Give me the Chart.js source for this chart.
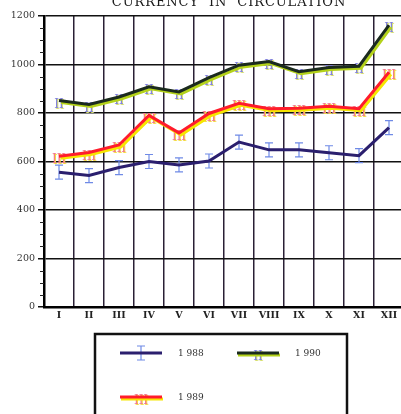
<!DOCTYPE html>
<html lang="en">
<head>
    <meta charset="UTF-8">
    <title>Currency in circulation</title>
    <script src="https://cdn.jsdelivr.net/npm/chart.js"></script>
    <style>
        body { margin: 0; overflow: hidden; background: #fff; }
    </style>
</head>
<body>
<canvas id="currency-chart" width="410" height="414"></canvas>

<script>
    const months = ['I', 'II', 'III', 'IV', 'V', 'VI', 'VII', 'VIII', 'IX', 'X', 'XI', 'XII'];
    const values1988 = [556, 542, 575, 600, 586, 602, 680, 648, 648, 636, 624, 740];
    const values1989 = [622, 637, 668, 790, 718, 798, 840, 818, 820, 828, 818, 968];
    const values1990 = [852, 835, 866, 908, 887, 946, 997, 1012, 970, 988, 993, 1162];
    const yTicks = [0, 200, 400, 600, 800, 1000, 1200];
    const titleText = 'CURRENCY  IN  CIRCULATION';

    // line shadow (the offset colour under the 1989 / 1990 lines)
    const shadowPlugin = {
        id: 'shadow',
        beforeDatasetDraw(chart, args) {
            const ds = chart.data.datasets[args.index];
            const ctx = chart.ctx;
            ctx.save();
            if (ds.shadow) {
                ctx.shadowColor = ds.shadow;
                ctx.shadowOffsetX = 2;
                ctx.shadowOffsetY = 2;
                ctx.shadowBlur = 0;
            }
        },
        afterDatasetDraw(chart) {
            chart.ctx.restore();
        }
    };

    function drawMarker(ctx, ds, x, y) {
        ctx.save();
        if (ds.glyph === 'I') {
            ctx.strokeStyle = ds.glyphColor;
            ctx.lineWidth = 1.2;
            ctx.beginPath();
            ctx.moveTo(x, y - 7); ctx.lineTo(x, y + 7);
            ctx.moveTo(x - 4, y - 7); ctx.lineTo(x + 4, y - 7);
            ctx.moveTo(x - 4, y + 7); ctx.lineTo(x + 4, y + 7);
            ctx.stroke();
        } else {
            ctx.font = '12px "DejaVu Serif"';
            ctx.textAlign = 'center';
            ctx.textBaseline = 'middle';
            ctx.fillStyle = ds.glyphShadow;
            ctx.fillText(ds.glyph, x + 1, y + 5);
            ctx.fillStyle = ds.glyphColor;
            ctx.fillText(ds.glyph, x, y + 4);
        }
        ctx.restore();
    }

    const markerPlugin = {
        id: 'markers',
        beforeDatasetsDraw(chart) {
            chart.data.datasets.forEach((ds, i) => {
                chart.getDatasetMeta(i).data.forEach(pt => drawMarker(chart.ctx, ds, pt.x, pt.y));
            });
        }
    };

    const decorPlugin = {
        id: 'decor',
        afterDraw(chart) {
            const ctx = chart.ctx;
            const y = chart.scales.y;
            const left = chart.chartArea.left;
            ctx.save();
            // minor ticks
            ctx.strokeStyle = '#222';
            ctx.lineWidth = 1;
            for (let v = 50; v < 1200; v += 50) {
                if (v % 200 === 0) continue;
                const py = Math.round(y.getPixelForValue(v)) + 0.5;
                ctx.beginPath();
                ctx.moveTo(left - 4, py);
                ctx.lineTo(left, py);
                ctx.stroke();
            }
            // title
            ctx.font = '13px "DejaVu Serif"';
            ctx.letterSpacing = '0.9px';
            ctx.fillStyle = '#1a1a1a';
            ctx.textAlign = 'center';
            ctx.textBaseline = 'alphabetic';
            ctx.fillText(titleText, 229, 6);
            ctx.letterSpacing = '0px';

            // legend box
            ctx.strokeStyle = '#111';
            ctx.lineWidth = 2.5;
            ctx.strokeRect(95, 334, 252, 110);
            const items = [
                {ds: 0, x: 120, y: 353, label: '1 988'},
                {ds: 2, x: 237, y: 353, label: '1 990'},
                {ds: 1, x: 120, y: 397, label: '1 989'}
            ];
            items.forEach(it => {
                const ds = chart.data.datasets[it.ds];
                drawMarker(ctx, ds, it.x + 21, it.y);
                if (ds.shadow) {
                    ctx.strokeStyle = ds.shadow;
                    ctx.lineWidth = 3;
                    ctx.beginPath();
                    ctx.moveTo(it.x + 1, it.y + 2);
                    ctx.lineTo(it.x + 43, it.y + 2);
                    ctx.stroke();
                }
                ctx.strokeStyle = ds.borderColor;
                ctx.lineWidth = 3;
                ctx.beginPath();
                ctx.moveTo(it.x, it.y);
                ctx.lineTo(it.x + 42, it.y);
                ctx.stroke();
                ctx.font = '9px "DejaVu Serif"';
                ctx.fillStyle = '#333';
                ctx.textAlign = 'left';
                ctx.textBaseline = 'middle';
                ctx.fillText(it.label, it.x + 58, it.y + 1);
            });
            ctx.restore();
        }
    };

    const ctx = document.getElementById('currency-chart').getContext('2d');
    const chart = new Chart(ctx, {
        type: 'line',
        data: {
            labels: months,
            datasets: [
                {
                    label: '1 988',
                    data: values1988,
                    borderColor: '#2b1f6e',
                    borderWidth: 3,
                    pointRadius: 0,
                    tension: 0,
                    glyph: 'I',
                    glyphColor: '#6f8ae6'
                },
                {
                    label: '1 989',
                    data: values1989,
                    borderColor: '#ff1c2c',
                    borderWidth: 3,
                    pointRadius: 0,
                    tension: 0,
                    shadow: '#f6e600',
                    glyph: 'III',
                    glyphColor: '#f27a8c',
                    glyphShadow: '#f4dc40'
                },
                {
                    label: '1 990',
                    data: values1990,
                    borderColor: '#1b2a1e',
                    borderWidth: 3,
                    pointRadius: 0,
                    tension: 0,
                    shadow: '#b4d21a',
                    glyph: 'II',
                    glyphColor: '#8282dc',
                    glyphShadow: '#d8e070'
                }
            ]
        },
        options: {
            responsive: false,
            animation: false,
            layout: {padding: {top: 16, right: 6, left: 0, bottom: 0}},
            plugins: {legend: {display: false}, tooltip: {enabled: false}},
            scales: {
                x: {
                    offset: true,
                    grid: {offset: true, color: '#2a2035', lineWidth: 1.5, drawTicks: false},
                    border: {color: '#000', width: 2.5},
                    ticks: {
                        color: '#222',
                        padding: 3,
                        maxRotation: 0,
                        autoSkip: false,
                        font: {family: 'DejaVu Serif', size: 9.5, weight: 'bold'}
                    },
                    afterFit: s => { s.height = 107; }
                },
                y: {
                    min: 0,
                    max: 1200,
                    afterBuildTicks: s => { s.ticks = yTicks.map(v => ({value: v})); },
                    grid: {color: '#111', lineWidth: 1.5, tickLength: 6, tickColor: '#111'},
                    border: {color: '#000', width: 2.5},
                    ticks: {
                        color: '#333',
                        padding: 3,
                        font: {family: 'DejaVu Serif', size: 9.5},
                        callback: v => String(v)
                    },
                    afterFit: s => { s.width = 44; }
                }
            }
        },
        plugins: [shadowPlugin, markerPlugin, decorPlugin]
    });
</script>
</body>
</html>
